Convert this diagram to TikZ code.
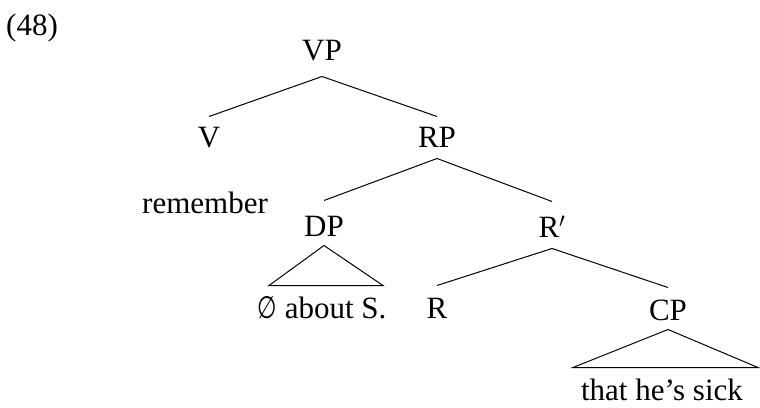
\documentclass[tikz,border=0pt]{standalone}
\usepackage{fontspec}
\usepackage{graphicx}
\setmainfont{Liberation Serif}
\newfontfamily\symfam{DejaVu Sans}
\usetikzlibrary{positioning}

\begin{document}
\begin{tikzpicture}[x=1pt,y=-1pt,
  cat/.style={anchor=base,inner sep=0pt,text height=30pt,text depth=11pt},
  leaf/.style={anchor=base,inner sep=0pt,text height=32pt,text depth=0pt},
  every node/.style={font=\fontsize{31}{37}\selectfont},
  every path/.style={line width=1pt}]
 \useasboundingbox (0,0) rectangle (760,407);
 \node[anchor=base] (ex) at (32,35) {(48)}; %番号

 \node[cat,text depth=16pt] (VP) at (322,60) {VP}; %根
 \node[cat] (V) at (209,147) {V};
 \node[cat] (RP) at (437,147) {RP};
 \node[anchor=base,inner sep=0pt] (rem) at (205,213) {remember};
 \node[cat,text height=35pt,text depth=9pt] (DP) at (324,236) {DP};
 \node[cat,text height=35pt] (Rbar) at (552,237) {R$'$};
 \node[leaf] (aboutS) at (322,318) {\scalebox{0.72}[1]{\symfam ∅} about S.};
 \node[cat,text height=32pt] (R) at (437,318) {R};
 \node[cat,text height=32pt,text depth=9pt] (CP) at (668,320) {CP};
 \node[leaf] (sick) at (662,400) {that he’s sick};

 \draw (V.north)--(VP.south)--(RP.north); %VP
 \draw (DP.north)--(RP.south)--(Rbar.north); %RP
 \draw (R.north)--(Rbar.south)--(CP.north); %R'
 \draw (DP.south)--([xshift=-53pt]aboutS.north)--([xshift=61pt]aboutS.north)--cycle; %三角形
 \draw (CP.south)--([xshift=-89pt]sick.north)--([xshift=96pt]sick.north)--cycle; %三角形
\end{tikzpicture}
\end{document}
